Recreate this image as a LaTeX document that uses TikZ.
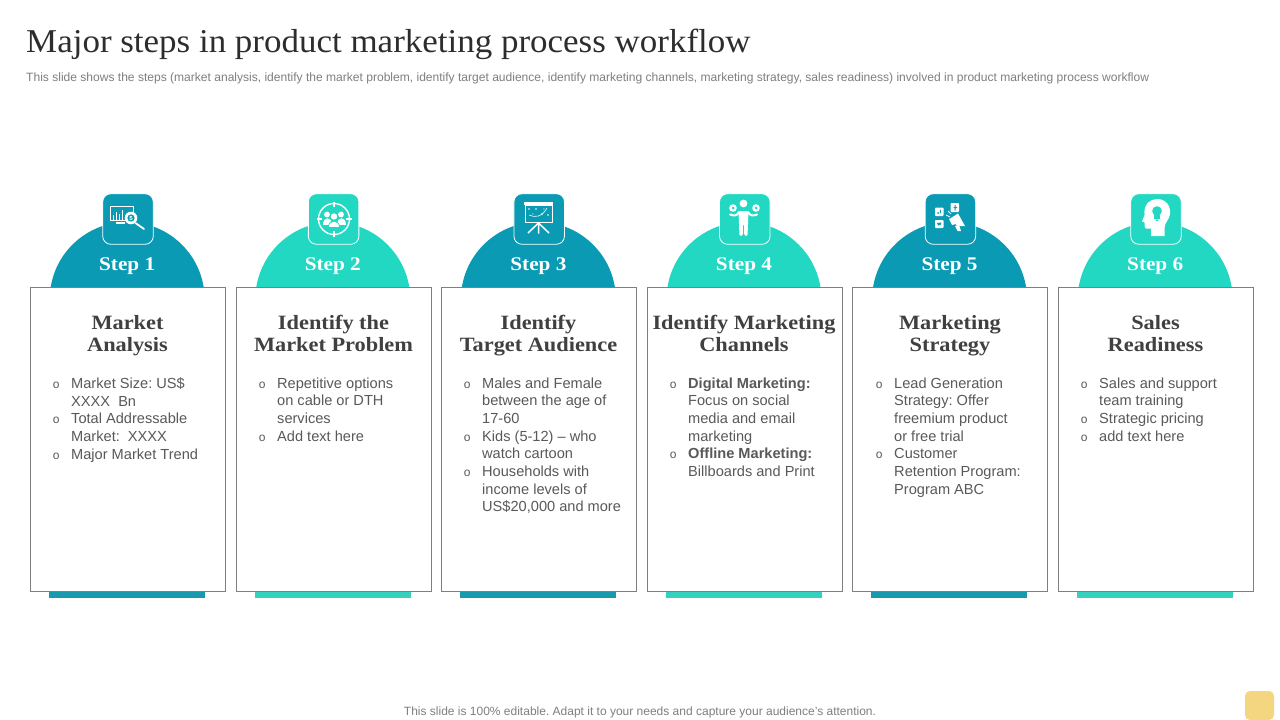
\documentclass[tikz,border=0pt]{standalone}
\usepackage{fontspec}
\setmainfont{Liberation Sans}
\newfontfamily\ttlfont[FakeStretch=1.05]{Liberation Serif}
\newfontfamily\hdfont[FakeStretch=1.1,BoldFont={Liberation Serif Bold}]{Liberation Serif}
\newfontfamily\bulfont{Liberation Mono}
\definecolor{tealc}{HTML}{0A9AB4}
\definecolor{turq}{HTML}{22D8C2}
\definecolor{barteal}{HTML}{1799AE}
\definecolor{barturq}{HTML}{36D0BF}
\definecolor{bodyc}{HTML}{595959}
\definecolor{headc}{HTML}{404040}
\definecolor{greyc}{HTML}{7F7F7F}
\definecolor{framec}{HTML}{7F7F7F}
\definecolor{tagc}{HTML}{F3D67F}
\newcommand{\bl}{\llap{\bulfont\fontsize{12}{12}\selectfont o\hspace{11.5pt}}}
\tikzset{
  x=1pt,y=-1pt,
  card/.style={draw=framec,line width=0.9pt,fill=white},
  hd/.style={font=\hdfont\bfseries\fontsize{20.3}{22}\selectfont,text=headc,align=center,anchor=base,inner sep=0pt},
  steplab/.style={font=\hdfont\bfseries\fontsize{19.3}{22}\selectfont,text=white,anchor=base,inner sep=0pt},
  bodytxt/.style={font=\fontsize{14.6}{17.7}\selectfont,text=bodyc,align=left,anchor=north west,inner sep=0pt},
  iconbox/.style={draw=white,line width=0.8pt,rounded corners=8pt},
  ic/.style={draw=white,line width=0.8pt,fill=none},
  icf/.style={fill=white,draw=none}
}
\newcommand{\stepframe}[5]{% x-left of card, colour, barcolour, name, label
  \fill[#2] (#1+97.2-76.5,287) arc[start angle=189.3,end angle=350.7,radius=77.5] -- cycle;
  \fill[#3] (#1+19,591) rectangle (#1+175,597.5);
  \node[card,minimum width=195pt,minimum height=304pt,anchor=north west,inner sep=0pt] (card#4) at (#1,286.7) {};
  \node[iconbox,fill=#2,minimum width=50.5pt,minimum height=50.5pt,inner sep=0pt] (ibox#4) at (#1+98,219) {};
  \node[steplab] (lab#4) at (#1+97.2,270) {Step #4};
}
\begin{document}
\frenchspacing
\begin{tikzpicture}
\useasboundingbox (0,0) rectangle (1280,720);
\fill[white] (0,0) rectangle (1280,720);
\node[anchor=base west,inner sep=0pt,font=\ttlfont\fontsize{33.3}{36}\selectfont,text=headc!70!black] (title) at (26,52) {Major steps in product marketing process workflow};
\node[anchor=base west,inner sep=0pt,font=\fontsize{12.05}{14}\selectfont,text=greyc] (sub) at (26,81) {This slide shows the steps (market analysis, identify the market problem, identify target audience, identify marketing channels, marketing strategy, sales readiness) involved in product marketing process workflow};
\stepframe{30}{tealc}{barteal}{1}{}
\stepframe{235.6}{turq}{barturq}{2}{}
\stepframe{441.2}{tealc}{barteal}{3}{}
\stepframe{646.8}{turq}{barturq}{4}{}
\stepframe{852.4}{tealc}{barteal}{5}{}
\stepframe{1058}{turq}{barturq}{6}{}
% headings
\node[hd] (h1a) at (127.5,329) {Market};
\node[hd] (h1b) at (127.5,351) {Analysis};
\node[hd] (h2a) at (333.5,329) {Identify the};
\node[hd] (h2b) at (333.5,351) {Market Problem};
\node[hd] (h3a) at (538.5,329) {Identify};
\node[hd] (h3b) at (538.5,351) {Target Audience};
\node[hd] (h4a) at (744,329) {Identify Marketing};
\node[hd] (h4b) at (744,351) {Channels};
\node[hd] (h5a) at (950,329) {Marketing};
\node[hd] (h5b) at (950,351) {Strategy};
\node[hd] (h6a) at (1155.5,329) {Sales};
\node[hd] (h6b) at (1155.5,351) {Readiness};
% bodies
\node[bodytxt] (b1) at (71,377.3) {\bl Market Size: US\$\\XXXX\ \ Bn\\\bl Total Addressable\\Market:\ \ XXXX\\\bl Major Market Trend};
\node[bodytxt] (b2) at (277,377.3) {\bl Repetitive options\\on cable or DTH\\services\\\bl Add text here};
\node[bodytxt] (b3) at (482,377.3) {\bl Males and Female\\between the age of\\17-60\\\bl Kids (5-12) – who\\watch cartoon\\\bl Households with\\income levels of\\US\$20,000 and more};
\node[bodytxt] (b4) at (688,377.3) {\bl\textbf{Digital Marketing:}\\Focus on social\\media and email\\marketing\\\bl\textbf{Offline Marketing:}\\Billboards and Print};
\node[bodytxt] (b5) at (894,377.3) {\bl Lead Generation\\Strategy: Offer\\freemium product\\or free trial\\\bl Customer\\Retention Program:\\Program ABC};
\node[bodytxt] (b6) at (1099,377.3) {\bl Sales and support\\team training\\\bl Strategic pricing\\\bl add text here};
% footer
\node[anchor=base,inner sep=0pt,font=\fontsize{12}{14}\selectfont,text=greyc] (foot) at (640,715) {This slide is 100\% editable. Adapt it to your needs and capture your audience's attention.};
\fill[tagc,rounded corners=5pt] (1245,691) rectangle (1274,720);
% icon 1
\begin{scope}
\draw[ic] (110,221) -- (110,206) -- (133,206) -- (133,212);
\draw[ic] (110,220.5) -- (126,220.5);
\draw[ic,line width=1.2pt] (116,223) -- (125,223);
\draw[ic] (113,220) -- (113,215) (116,220) -- (116,212) (119,220) -- (119,214) (122,220) -- (122,210);
\fill[white] (131,218) circle (6.3);
\fill[tealc] (131,218) circle (3.6);
\node[inner sep=0pt,font=\bfseries\fontsize{6}{6}\selectfont,text=white] (dollar) at (131,218) {\$};
\draw[white,line width=1.8pt,line cap=round] (135.5,223) -- (144,229);
\end{scope}
% icon 2
\begin{scope}
\draw[white,line width=1.4pt] (334,219) circle (15.5);
\draw[white,line width=1.4pt] (334,201.5) -- (334,207) (334,231) -- (334,236.5) (316.5,219) -- (322,219) (346,219) -- (351.5,219);
\fill[white] (327,214.5) circle (2.9) (341,214.5) circle (2.9);
\fill[white] (322.5,224.5) .. controls (322.5,216) and (331.5,216) .. (331.5,224.5) -- cycle;
\fill[white] (336.5,224.5) .. controls (336.5,216) and (345.5,216) .. (345.5,224.5) -- cycle;
\fill[turq] (334,216.5) circle (4.2);
\fill[white] (334,216.5) circle (3.2);
\fill[turq] (328,228) .. controls (328,218) and (340,218) .. (340,228) -- cycle;
\fill[white] (329,227) .. controls (329,219.5) and (339,219.5) .. (339,227) -- cycle;
\end{scope}
% icon 3
\begin{scope}
\fill[white] (524,202) rectangle (553,205);
\draw[ic] (525,205) rectangle (552,222);
\draw[ic,line width=0.6pt] (529,215) .. controls (535,218) and (542,217) .. (547,208);
\fill[white] (529,209) circle (0.9) (536,209) circle (0.9) (542,214) circle (0.9) (548,215) circle (0.9) (533,214) circle (0.7) (544,209) circle (0.7);
\draw[white,line width=1.5pt] (528,233) -- (538.5,223) -- (549,233) (538.5,223) -- (538.5,233.5);
\end{scope}
% icon 4
\begin{scope}
\fill[white] (743.5,203.5) circle (3.9);
\fill[white,rounded corners=1.5pt] (738.5,211) -- (748.5,211) -- (748,224) -- (747.5,236) -- (744.3,236) -- (744,224) -- (743,224) -- (742.7,236) -- (739.5,236) -- (739,224) -- cycle;
\draw[white,line width=2pt,line cap=round] (739,212) .. controls (737,216) and (734,216) .. (730,214.5);
\draw[white,line width=2pt,line cap=round] (748,212) .. controls (750,216) and (753,216) .. (757,214.5);
\fill[white] (733,208) circle (3.8) (756,208) circle (3.8);
\fill[turq] (733,208) circle (1.5) (756,208) circle (1.5);
\end{scope}
% icon 5
\begin{scope}
\fill[white,rounded corners=0.8pt] (935,207.5) rectangle (943.5,216);
\fill[white,rounded corners=0.8pt] (950.5,203) rectangle (959,212);
\fill[white,rounded corners=0.8pt] (935,220) rectangle (943.5,228);
\fill[tealc] (938,213) circle (1) (940,209.5) rectangle (940.8,213);
\fill[tealc] (954.5,205) rectangle (955.7,210.5) (953.5,207) rectangle (957,208);
\fill[tealc] (937,223) -- (941.5,222.5) -- (940.5,225) -- (938,225.5) -- cycle;
\fill[white] (951,218) -- (958,213.5) -- (965,226) -- (957,226) -- cycle;
\fill[white] (955,226) -- (959,225) -- (961,231) -- (957.5,231) -- cycle;
\fill[white] (949,219) -- (953,217) -- (956,224) -- (952,225) -- cycle;
\draw[white,line width=0.8pt] (946,215) -- (950,217) (948,211) -- (951,214);
\end{scope}
% icon 6
\begin{scope}
\fill[white] (1151,236) -- (1151,228.5) -- (1146,228.5) .. controls (1144.5,228.5) and (1144.5,225) .. (1144.5,222.5) -- (1142,221.5) -- (1144.5,215) .. controls (1143.5,204) and (1150,199) .. (1157,199) .. controls (1166,199) and (1171,206) .. (1170,214) .. controls (1169.5,220) and (1164.5,222) .. (1164.5,228) -- (1164.5,236) -- cycle;
\fill[turq] (1157,211) circle (4.8);
\fill[turq] (1154,215) rectangle (1160,219);
\fill[turq] (1155,219.5) -- (1159,219.5) -- (1157,221.5) -- cycle;
\end{scope}
\end{tikzpicture}
\end{document}
